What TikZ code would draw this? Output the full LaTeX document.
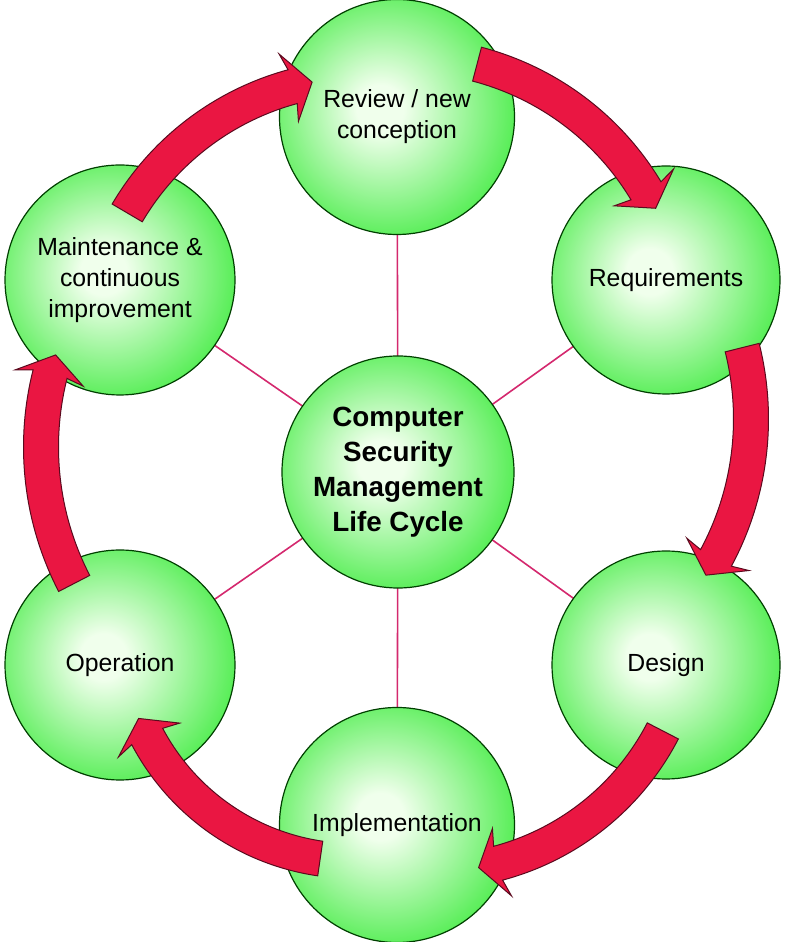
\documentclass[tikz,border=0pt]{standalone}
\usepackage{fontspec}
\setmainfont{Liberation Sans}
\usetikzlibrary{calc,backgrounds}
\definecolor{ballgreen}{RGB}{54,234,54}
\definecolor{ballcore}{RGB}{240,255,236}
\definecolor{arrowred}{RGB}{234,22,66}
\definecolor{arrowline}{RGB}{90,10,30}
\definecolor{spokecol}{RGB}{212,40,110}
\pgfdeclareradialshading{ballshade}{\pgfpoint{-4bp}{2bp}}{color(0bp)=(ballcore); color(5bp)=(ballcore); color(32bp)=(ballgreen); color(50bp)=(ballgreen)}
\newcommand\cyclearrow[5]{%
  \pgfmathsetmacro\cArO{#3+17.5}%
  \pgfmathsetmacro\cArI{#3-17.5}%
  \pgfmathsetmacro\cArBO{#3+35}%
  \pgfmathsetmacro\cArBI{#3-35}%
  \pgfmathsetmacro\cArAB{#5+4/#3*57.2958}%
  \pgfmathsetmacro\cArAT{#5-20/#3*57.2958}%
  \draw[arrowstyle] ($(#1,#2)+(#4:\cArO)$) arc[start angle=#4, end angle=#5, radius=\cArO]
    -- ($(#1,#2)+(\cArAB:\cArBO)$) -- ($(#1,#2)+(\cArAT:#3)$) -- ($(#1,#2)+(\cArAB:\cArBI)$)
    -- ($(#1,#2)+(#5:\cArI)$) arc[start angle=#5, end angle=#4, radius=\cArI] -- cycle;}
\begin{document}
\begin{tikzpicture}[x=0.5pt,y=0.5pt,
  ball/.style={circle, draw=black!75!green, line width=0.6pt, shading=ballshade,
    align=center, inner sep=0pt, font=\fontsize{12.4}{15.5}\selectfont},
  hub/.style={ball, font=\bfseries\fontsize{13.9}{17.5}\selectfont},
  spoke/.style={draw=spokecol, line width=0.8pt},
  arrowstyle/.style={fill=arrowred, draw=arrowline, line width=0.5pt, line join=miter}]
\useasboundingbox (0,0) rectangle (784,942);
% nodes (pixel x, 942 - pixel y)
\node[hub, minimum size=116pt] (hubn) at (398,470) {Computer\\Security\\Management\\Life Cycle};
\node[ball, minimum size=117.5pt] (rev) at (397,825) {Review / new\\conception};
\node[ball, minimum size=114pt] (req) at (666,662) {Requirements};
\node[ball, minimum size=114pt] (des) at (666,277) {Design};
\node[ball, minimum size=117.5pt] (imp) at (397,117) {Implementation};
\node[ball, minimum size=115pt] (ope) at (120,277) {Operation};
\node[ball, minimum size=115pt] (mai) at (120,662) {Maintenance \&\\continuous\\improvement};
\begin{pgfonlayer}{background}
\fill[white] (0,0) rectangle (784,942);
\foreach \n in {rev,req,des,imp,ope,mai} \draw[spoke] (hubn.center) -- (\n.center);
\end{pgfonlayer}
% curved block arrows (clockwise)
\cyclearrow{365}{589}{276}{149.5}{105.2}
\cyclearrow{406}{607}{280}{75.3}{31.0}
\cyclearrow{458}{523}{293}{14.1}{-28.3}
\cyclearrow{431}{331}{261}{-27.35}{-75.1}
\cyclearrow{354}{315}{234}{-98.3}{-152.1}
\cyclearrow{338}{495}{297}{207.35}{165.8}
\end{tikzpicture}
\end{document}
